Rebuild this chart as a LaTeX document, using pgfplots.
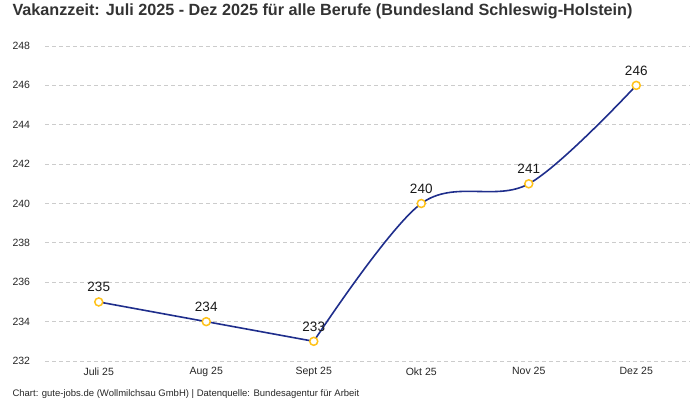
\documentclass[border=0pt]{standalone}
\usepackage{pgfplots}
\pgfplotsset{compat=1.18}
\usepackage{fontspec}
\setmainfont{Liberation Sans}
\definecolor{linecol}{HTML}{1F2E8C}
\definecolor{markcol}{HTML}{FFC21A}
\definecolor{gridcol}{HTML}{CCCCCC}
\begin{document}
\begin{tikzpicture}[x=1pt,y=1pt]
\useasboundingbox (0,0) rectangle (700,400);
\node[anchor=base west,font=\fontsize{16.2}{18}\selectfont\bfseries,text=black!80] at (9,384) {Vakanzzeit: Juli 2025 - Dez 2025 für alle Berufe (Bundesland Schleswig-Holstein)};
\node[anchor=base west,font=\fontsize{9.5}{11}\selectfont,text=black!85] at (9,4) {Chart: gute-jobs.de (Wollmilchsau GmbH) | Datenquelle: Bundesagentur für Arbeit};
\pgfplotstableread{
x y
0 235
1 234
2 233
3 240
4 241
5 246
}\datatable
\pgfplotstableread{
x y
0 235
1 234
2 233
}\segA
\pgfplotstableread{
x y
2 233
3 240
4 241
5 246
}\segB
\begin{axis}[
  at={(45pt,39pt)}, anchor=south west,
  scale only axis, width=645pt, height=315pt,
  xmin=-0.5, xmax=5.5, ymin=232, ymax=248,
  axis line style={draw=none},
  ytick={232,234,...,248},
  xtick={0,1,2,3,4,5},
  xticklabels={Juli 25,Aug 25,Sept 25,Okt 25,Nov 25,Dez 25},
  major tick length=0pt,
  ymajorgrids, grid style={gridcol, dashed, line width=0.8pt, dash pattern=on 4pt off 3pt},
  tick label style={font=\fontsize{10.5}{12}\selectfont, text=black!85},
  /pgf/number format/assume math mode=true,
  yticklabel style={anchor=west, xshift=-36pt},
  xticklabel style={yshift=-3pt},
  clip=false,
]
\addplot[linecol, line width=1.6pt, smooth, tension=0.7] table[x=x,y=y] {\segA};
\addplot[linecol, line width=1.6pt, smooth, tension=0.55] table[x=x,y=y] {\segB};
\addplot[only marks, mark=*, mark size=4pt, mark options={draw=markcol, fill=white, line width=1.5pt},
  nodes near coords,
  every node near coord/.append style={font=\fontsize{13.5}{15}\selectfont, text=black!90, yshift=6pt}]
  table[x=x,y=y] {\datatable};
\end{axis}
\end{tikzpicture}
\end{document}
